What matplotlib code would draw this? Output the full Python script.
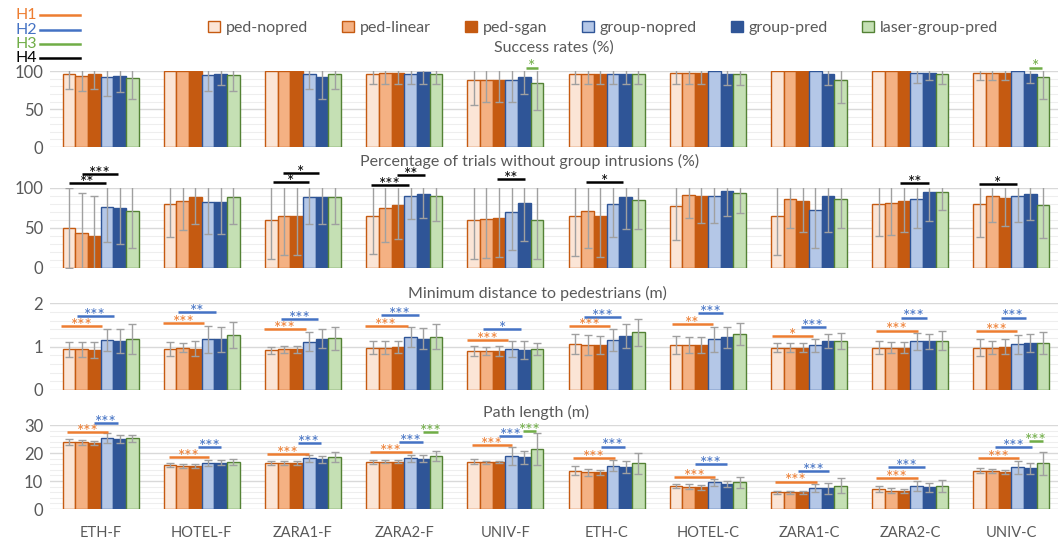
import numpy as np
import matplotlib

matplotlib.use("Agg")
import matplotlib.pyplot as plt
from matplotlib.patches import Patch
from matplotlib.lines import Line2D

plt.rcParams["font.family"] = ["Lato", "DejaVu Sans"]

W, H = 1058, 543

categories = ["ETH-F", "HOTEL-F", "ZARA1-F", "ZARA2-F", "UNIV-F",
              "ETH-C", "HOTEL-C", "ZARA1-C", "ZARA2-C", "UNIV-C"]
methods = ["ped-nopred", "ped-linear", "ped-sgan",
           "group-nopred", "group-pred", "laser-group-pred"]

# success rate (%), one row per dataset, one column per method
success = [
    [96, 94, 96, 92, 94, 91],
    [100, 100, 100, 95, 97, 95],
    [100, 100, 100, 96, 92, 96],
    [97, 98, 98, 97, 99, 97],
    [88, 89, 89, 89, 93, 84],
    [97, 97, 97, 97, 97, 97],
    [98, 98, 98, 100, 97, 97],
    [100, 100, 100, 100, 97, 88],
    [100, 100, 100, 98, 98, 97],
    [98, 98, 98, 100, 97, 92],
]
success_err = [
    [19, 20, 19, 25, 22, 28],
    [0, 0, 0, 21, 15, 21],
    [0, 0, 0, 20, 28, 20],
    [14, 15, 15, 14, 16, 14],
    [32, 30, 30, 30, 23, 35],
    [14, 14, 14, 14, 14, 14],
    [15, 15, 15, 0, 15, 15],
    [0, 0, 0, 0, 15, 30],
    [0, 0, 0, 13, 9, 14],
    [9, 9, 9, 0, 13, 28],
]

# trials without group intrusions (%)
intrusion = [
    [50, 43, 40, 76, 74, 71],
    [79, 83, 88, 82, 82, 88],
    [60, 64, 64, 88, 88, 88],
    [65, 74, 78, 90, 92, 89],
    [60, 61, 62, 70, 81, 60],
    [64, 71, 64, 80, 88, 85],
    [77, 91, 89, 89, 96, 93],
    [64, 86, 83, 72, 90, 86],
    [80, 81, 83, 86, 94, 95],
    [79, 89, 87, 89, 92, 78],
]
intrusion_err = [
    [50, 50, 50, 44, 44, 46],
    [41, 36, 33, 40, 40, 33],
    [49, 48, 48, 33, 33, 33],
    [48, 42, 42, 29, 30, 31],
    [49, 49, 49, 48, 48, 49],
    [49, 47, 50, 42, 40, 37],
    [43, 29, 33, 33, 32, 25],
    [48, 36, 38, 47, 46, 36],
    [40, 40, 39, 36, 36, 23],
    [41, 32, 35, 32, 32, 41],
]

# minimum distance to pedestrians (m)
mindist = [
    [0.94, 0.94, 0.92, 1.15, 1.13, 1.17],
    [0.94, 0.98, 0.95, 1.17, 1.17, 1.27],
    [0.92, 0.94, 0.94, 1.11, 1.18, 1.19],
    [0.98, 0.98, 1.00, 1.22, 1.18, 1.23],
    [0.90, 0.90, 0.90, 0.94, 0.92, 0.94],
    [1.06, 1.04, 1.04, 1.15, 1.25, 1.33],
    [1.04, 1.04, 1.04, 1.17, 1.22, 1.29],
    [0.98, 0.98, 0.98, 1.03, 1.13, 1.13],
    [0.98, 0.98, 0.98, 1.12, 1.12, 1.14],
    [0.98, 0.98, 1.00, 1.05, 1.08, 1.08],
]
mindist_err = [
    [0.17, 0.17, 0.18, 0.25, 0.27, 0.35],
    [0.16, 0.11, 0.17, 0.31, 0.29, 0.31],
    [0.08, 0.08, 0.08, 0.22, 0.22, 0.27],
    [0.15, 0.15, 0.14, 0.23, 0.24, 0.29],
    [0.12, 0.10, 0.12, 0.18, 0.21, 0.14],
    [0.23, 0.23, 0.21, 0.26, 0.27, 0.31],
    [0.21, 0.18, 0.18, 0.29, 0.24, 0.26],
    [0.10, 0.11, 0.11, 0.15, 0.16, 0.18],
    [0.15, 0.12, 0.12, 0.20, 0.17, 0.21],
    [0.20, 0.16, 0.17, 0.23, 0.21, 0.25],
]

# path length (m)
pathlen = [
    [23.8, 23.8, 23.7, 25.2, 25.0, 25.2],
    [15.7, 15.4, 15.5, 16.5, 16.5, 16.8],
    [16.5, 16.5, 16.5, 18.1, 17.7, 18.5],
    [16.9, 16.9, 16.9, 18.1, 18.0, 18.9],
    [16.9, 16.7, 16.8, 18.9, 18.5, 21.3],
    [13.7, 13.1, 13.1, 15.4, 14.9, 16.3],
    [8.2, 8.0, 7.7, 9.5, 8.9, 9.5],
    [6.0, 6.0, 6.0, 7.4, 7.4, 8.3],
    [7.1, 6.5, 6.5, 8.3, 7.7, 8.3],
    [13.7, 13.5, 13.3, 14.9, 14.5, 16.3],
]
pathlen_err = [
    [1.1, 1.0, 0.7, 1.8, 1.5, 1.3],
    [0.8, 0.8, 0.7, 1.1, 0.9, 1.1],
    [0.8, 0.8, 0.7, 1.3, 1.3, 1.8],
    [0.7, 0.6, 0.6, 1.2, 1.3, 1.8],
    [0.8, 0.6, 0.5, 3.1, 2.3, 5.7],
    [1.5, 1.2, 1.0, 2.0, 2.2, 3.7],
    [0.8, 0.8, 0.8, 1.3, 1.2, 2.0],
    [0.6, 0.5, 0.5, 1.4, 1.9, 2.6],
    [1.2, 0.9, 0.8, 1.8, 1.6, 2.2],
    [0.8, 0.8, 0.8, 2.3, 2.0, 4.0],
]

# significance brackets: (dataset, hypothesis, from bar, to bar, height, stars)
sig_success = [
    (4, "H3", 4.6, 5.6, 105, "*"),
    (9, "H3", 4.4, 5.4, 105, "*"),
]
sig_intrusion = [
    (0, "H4", 0.47, 3.46, 105.5, "**"),
    (0, "H4", 1.5, 4.4, 117, "***"),
    (2, "H4", 0.63, 3.46, 106.7, "*"),
    (2, "H4", 1.42, 4.25, 118.8, "*"),
    (3, "H4", 0.39, 3.35, 103.4, "***"),
    (3, "H4", 2.41, 4.67, 116, "**"),
    (4, "H4", 2.33, 4.57, 110.5, "**"),
    (5, "H4", 1.37, 4.3, 107.5, "*"),
    (8, "H4", 2.23, 4.5, 106, "**"),
    (9, "H4", 0.47, 3.4, 104.6, "*"),
]
sig_mindist = [
    (0, "H1", -0.13, 3.13, 1.48, "***"), (0, "H2", 1.1, 4.05, 1.715, "***"),
    (1, "H1", -0.05, 3.2, 1.55, "***"), (1, "H2", 1.1, 4.1, 1.79, "**"),
    (2, "H1", -0.08, 3.2, 1.40, "***"), (2, "H2", 1.23, 4.2, 1.64, "***"),
    (3, "H1", -0.13, 3.28, 1.48, "***"), (3, "H2", 1.13, 4.15, 1.72, "***"),
    (4, "H1", 0.0, 3.2, 1.15, "***"), (4, "H2", 1.25, 4.25, 1.40, "*"),
    (5, "H1", 0.05, 3.3, 1.48, "***"), (5, "H2", 1.23, 4.1, 1.69, "***"),
    (6, "H1", 0.18, 3.4, 1.52, "**"), (6, "H2", 2.2, 4.2, 1.77, "***"),
    (7, "H1", 0.05, 3.34, 1.25, "*"), (7, "H2", 2.34, 4.34, 1.46, "***"),
    (8, "H1", 0.32, 3.6, 1.37, "***"), (8, "H2", 2.29, 4.29, 1.67, "***"),
    (9, "H1", 0.18, 3.47, 1.36, "***"), (9, "H2", 2.16, 4.13, 1.67, "***"),
]
sig_pathlen = [
    (0, "H1", 0.35, 3.6, 27.4, "***"), (0, "H2", 2.5, 4.4, 30.6, "***"),
    (1, "H1", 0.4, 3.6, 18.5, "***"), (1, "H2", 2.7, 4.5, 22.0, "***"),
    (2, "H1", 0.13, 3.47, 19.6, "***"), (2, "H2", 2.58, 4.4, 23.5, "***"),
    (3, "H1", 0.3, 3.6, 20.2, "***"), (3, "H2", 2.6, 4.5, 23.8, "***"),
    (3, "H3", 4.5, 5.7, 27.4, "***"),
    (4, "H1", 0.33, 3.55, 22.9, "***"), (4, "H2", 2.5, 4.3, 26.1, "***"),
    (4, "H3", 4.4, 5.4, 27.9, "***"),
    (5, "H1", 0.34, 3.63, 18.3, "***"), (5, "H2", 2.58, 4.47, 22.3, "***"),
    (6, "H1", 0.3, 3.6, 11.5, "***"), (6, "H2", 2.0, 4.5, 16.0, "***"),
    (7, "H1", 0.32, 3.6, 9.8, "***"), (7, "H2", 2.16, 4.55, 13.6, "***"),
    (8, "H1", 0.32, 3.63, 11.2, "***"), (8, "H2", 1.24, 4.2, 15.1, "***"),
    (9, "H1", 0.34, 3.63, 18.3, "***"), (9, "H2", 1.7, 4.66, 22.0, "***"),
    (9, "H3", 4.4, 5.47, 24.4, "***"),
]

face_colors = ["#FBE5D6", "#F4B183", "#C55A11", "#B4C7E7", "#2F5597", "#C5E0B4"]
edge_colors = ["#C55A11", "#C55A11", "#C55A11", "#2F5597", "#2F5597", "#548235"]
hyp_colors = {"H1": "#ED7D31", "H2": "#4472C4", "H3": "#70AD47", "H4": "#000000"}
TEXT = "#595959"

BAR_W = 0.1252
N_M = len(methods)


def bar_x(i, u):
    # position inside group i, u in bar widths from the group's left edge
    return i - N_M / 2 * BAR_W + u * BAR_W


def draw_panel(ax, vals, errs, sigs, ymax, major, minor):
    vals = np.asarray(vals, dtype=float)
    errs = np.asarray(errs, dtype=float)
    idx = np.arange(len(categories))
    for j in range(N_M):
        x = idx + (j - (N_M - 1) / 2) * BAR_W
        ax.bar(x, vals[:, j], width=BAR_W, color=face_colors[j],
               edgecolor=edge_colors[j], linewidth=1.0, zorder=2)
        keep = errs[:, j] > 0
        ax.errorbar(x[keep], vals[keep, j], yerr=errs[keep, j], fmt="none",
                    ecolor="#A0A0A0", elinewidth=1.0, capsize=3, capthick=1.0,
                    zorder=3)
    for (i, hyp, u0, u1, y, lab) in sigs:
        c = hyp_colors[hyp]
        x0, x1 = bar_x(i, u0), bar_x(i, u1)
        ax.plot([x0, x1], [y, y], color=c, lw=1.8, clip_on=False, zorder=4,
                solid_capstyle="butt")
        ax.annotate(lab, xy=((x0 + x1) / 2, y), xytext=(0, -3.5),
                    textcoords="offset points", ha="center", va="baseline",
                    color=c, fontsize=12.5, annotation_clip=False, zorder=5)
    ax.set_xlim(-0.5, 9.46)
    ax.set_ylim(0, ymax)
    ax.set_yticks(np.arange(0, ymax + 1e-9, major))
    ax.set_yticks(np.arange(0, ymax + 1e-9, minor), minor=True)
    ax.yaxis.grid(True, which="major", color="#D9D9D9", lw=1.0)
    ax.yaxis.grid(True, which="minor", color="#EEEEEE", lw=0.8)
    ax.set_axisbelow(True)
    for s in ax.spines.values():
        s.set_visible(False)
    ax.tick_params(axis="y", which="both", length=0, labelsize=12,
                   labelcolor=TEXT, pad=5)
    ax.tick_params(axis="x", length=0)
    ax.set_xticks(idx)
    ax.set_xticklabels([])


fig = plt.figure(figsize=(W / 100, H / 100), dpi=100)


def add_axes(top, bottom):
    return fig.add_axes([50 / W, 1 - bottom / H, (W - 50) / W, (bottom - top) / H])


ax1 = add_axes(71.3, 147)
ax2 = add_axes(187.7, 267.7)
ax3 = add_axes(303.3, 390)
ax4 = add_axes(425, 509)

draw_panel(ax1, success, success_err, sig_success, 100, 50, 10)
draw_panel(ax2, intrusion, intrusion_err, sig_intrusion, 100, 50, 10)
draw_panel(ax3, mindist, mindist_err, sig_mindist, 2, 1, 0.2)
draw_panel(ax4, pathlen, pathlen_err, sig_pathlen, 30, 10, 2)
ax4.set_xticklabels(categories, fontsize=10.5, color=TEXT)
ax4.tick_params(axis="x", pad=12)

titles = [("Success rates (%)", 554, 48),
          ("Percentage of trials without group intrusions (%)", 530, 161),
          ("Minimum distance to pedestrians (m)", 537, 293),
          ("Path length (m)", 536, 412)]
for t, x, y in titles:
    fig.text(x / W, 1 - y / H, t, ha="center", va="center", fontsize=11.5, color=TEXT)

handles = [Patch(facecolor=face_colors[j], edgecolor=edge_colors[j], linewidth=1.0)
           for j in range(N_M)]
fig.legend(handles, methods, loc="center", bbox_to_anchor=(603 / W, 1 - 28 / H),
           ncol=6, frameon=False, fontsize=11.5, handlelength=0.75, handleheight=0.75,
           handletextpad=0.35, columnspacing=2.15, labelcolor=TEXT, borderpad=0)

for k, (hyp, y) in enumerate([("H1", 15), ("H2", 30), ("H3", 44), ("H4", 58)]):
    c = hyp_colors[hyp]
    fig.text(37 / W, 1 - y / H, hyp, ha="right", va="center", fontsize=11.5, color=c)
    fig.add_artist(Line2D([40 / W, 80 / W], [1 - y / H, 1 - y / H], color=c, lw=1.8))

fig.savefig("out.png", dpi=100)
